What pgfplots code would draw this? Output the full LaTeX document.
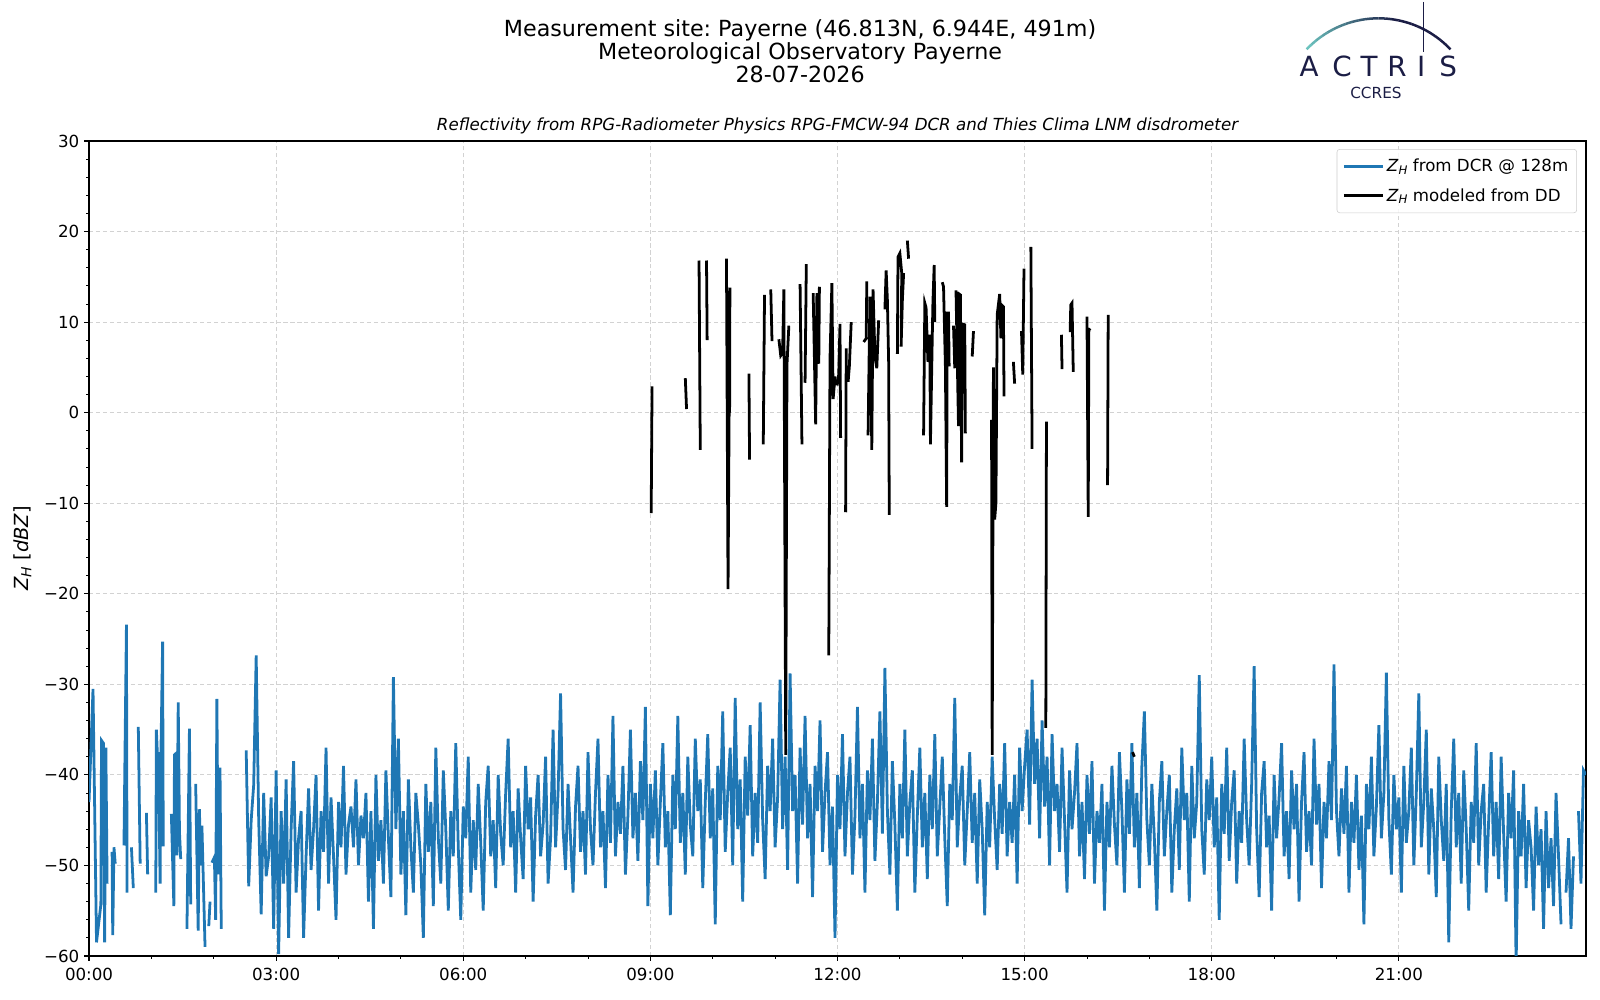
\documentclass[border=0pt]{standalone}
\usepackage{fontspec}
\setmainfont{DejaVu Sans}
\usepackage{pgfplots}
\pgfplotsset{compat=1.18}
\frenchspacing
\definecolor{mplblue}{HTML}{1F77B4}
\definecolor{logonavy}{HTML}{1B1D45}
\definecolor{logoteal}{HTML}{6CC3BE}
\newcommand\ZH[1]{\textit{Z}\raisebox{-0.3ex}{\fontsize{#1}{#1}\selectfont\textit{H}}}
\begin{document}
\begin{tikzpicture}
\useasboundingbox (-64.1pt,-31.7pt) rectangle (1087.9pt,688.3pt);
\begin{axis}[
 at={(0pt,0pt)}, anchor=south west, scale only axis,
 width=1077.8pt, height=586.8pt,
 xmin=0, xmax=24, ymin=-60, ymax=30,
 xtick={0,3,6,9,12,15,18,21},
 xticklabels={00:00,03:00,06:00,09:00,12:00,15:00,18:00,21:00},
 minor x tick num=2,
 ytick={-60,-50,-40,-30,-20,-10,0,10,20,30},
 yticklabels={−60,−50,−40,−30,−20,−10,0,10,20,30},
 minor y tick num=4,
 tick align=outside, tick pos=left,
 major tick length=3.5pt, minor tick length=2pt,
 every tick/.style={black, line width=0.8pt},
 minor tick style={line width=0.6pt},
 axis line style={line width=0.8pt},
 grid=major,
 major grid style={gray!35, line width=0.6pt, dash pattern=on 3pt off 2pt},
 ticklabel style={font=\fontsize{12}{14}\selectfont},
 xticklabel style={yshift=-1.5pt},
 ylabel={\ZH{10} [\textit{dBZ}]},
 ylabel style={font=\fontsize{14}{16}\selectfont, at={(axis description cs:-0.0445,0.5)}, anchor=center},
 unbounded coords=jump,
 legend style={at={(1,1)}, anchor=north east, xshift=-6.5pt, yshift=-5.8pt,
   draw=gray!40, rounded corners=2pt, fill=white, fill opacity=0.8, text opacity=1,
   font=\fontsize{12}{14}\selectfont, inner xsep=4pt, inner ysep=5pt, row sep=6.5pt,
   cells={anchor=west}},
 legend image code/.code={\draw[#1, line width=2pt] (0pt,0pt) -- (28pt,0pt);},
]
\addplot[mplblue, line width=2pt] coordinates {
(0.00,-43.0)(0.064,-30.5)(0.12,-58.5)(0.19,-54.3)(0.20,-36.2)(0.23,-36.5)(0.25,-58.5)(0.27,-37.0)(0.29,-52.0)(0.30,nan)
(0.37,-48.5)(0.38,-57.7)(0.40,-48.0)(0.42,-49.8)(0.48,nan)
(0.56,-47.8)(0.60,-23.4)(0.61,-53.0)(0.64,nan)(0.68,-48.0)(0.71,-52.5)(0.75,nan)(0.79,-34.7)(0.82,-49.8)(0.86,nan)
(0.92,-44.2)(0.94,-51.0)(1.00,nan)
(1.07,-53.0)(1.08,-35.0)(1.10,-38.4)(1.11,-37.5)(1.14,-52.0)(1.15,-38.9)(1.18,-25.3)(1.19,-47.9)(1.25,nan)
(1.32,-44.3)(1.36,-54.5)(1.37,-37.8)(1.40,-37.6)(1.41,-48.9)(1.43,-32.0)(1.45,-46.3)(1.47,-49.3)(1.52,nan)
(1.57,-57.0)(1.61,-34.9)(1.63,-54.3)(1.67,nan)
(1.71,-41.0)(1.75,-57.2)(1.77,-43.8)(1.79,-50.0)(1.81,-45.6)(1.86,-59.0)(1.89,nan)(1.92,-56.7)(1.94,-54.0)(1.955,nan)
(1.97,-49.7)(2.01,-49.1)(2.03,-56.0)(2.05,-31.6)(2.07,-51.0)(2.10,-39.2)(2.12,-57.0)(2.30,nan)
(2.52,-37.3)(2.56,-52.3)(2.60,-45.0)(2.64,-41.1)(2.68,-26.8)(2.72,-44.9)(2.76,-55.4)(2.80,-42.0)(2.84,-51.2)(2.88,-49.0)(2.92,-42.5)(2.96,-57.0)
(3.00,-39.5)(3.04,-59.8)(3.08,-44.0)(3.12,-52.0)(3.16,-40.5)(3.20,-58.0)(3.24,-46.0)(3.28,-38.5)(3.32,-53.0)(3.36,-47.0)(3.40,-44.0)(3.44,-58.0)(3.48,-49.0)(3.52,-41.5)(3.56,-50.5)(3.60,-46.0)(3.64,-40.0)(3.68,-55.0)(3.72,-44.0)(3.76,-48.5)(3.80,-37.0)(3.84,-52.0)(3.88,-42.5)(3.92,-49.0)(3.96,-56.0)
(4.00,-43.0)(4.04,-48.0)(4.08,-39.0)(4.12,-51.0)(4.16,-45.5)(4.20,-43.5)(4.24,-48.0)(4.28,-40.5)(4.32,-50.0)(4.36,-44.5)(4.40,-47.0)(4.44,-42.0)(4.48,-54.0)(4.52,-44.0)(4.56,-57.0)(4.60,-40.0)(4.64,-49.5)(4.68,-45.0)(4.72,-52.0)(4.76,-39.5)(4.80,-47.0)(4.84,-53.5)(4.88,-29.2)(4.92,-46.0)(4.96,-36.0)
(5.00,-51.0)(5.04,-44.0)(5.08,-55.5)(5.12,-40.5)(5.16,-48.0)(5.20,-53.0)(5.24,-42.0)(5.28,-45.5)(5.32,-50.0)(5.36,-58.0)(5.40,-41.0)(5.44,-48.5)(5.48,-43.0)(5.52,-54.5)(5.56,-37.0)(5.60,-47.0)(5.64,-52.0)(5.68,-39.5)(5.72,-46.0)(5.76,-55.0)(5.80,-44.0)(5.84,-49.0)(5.88,-36.5)(5.92,-48.0)(5.96,-56.0)
(6.00,-43.5)(6.04,-47.0)(6.08,-38.0)(6.12,-53.0)(6.16,-45.0)(6.20,-50.5)(6.24,-41.0)(6.28,-47.5)(6.32,-55.0)(6.36,-43.0)(6.40,-39.0)(6.44,-49.0)(6.48,-45.0)(6.52,-52.5)(6.56,-40.0)(6.60,-46.5)(6.64,-50.0)(6.68,-42.0)(6.72,-36.0)(6.76,-48.0)(6.80,-44.0)(6.84,-53.0)(6.88,-41.5)(6.92,-47.0)(6.96,-51.5)
(7.00,-39.0)(7.04,-46.0)(7.08,-42.5)(7.12,-54.0)(7.16,-44.5)(7.20,-40.0)(7.24,-49.0)(7.28,-45.5)(7.32,-38.0)(7.36,-52.0)(7.40,-47.0)(7.44,-35.0)(7.48,-48.0)(7.52,-42.0)(7.56,-31.0)(7.60,-46.0)(7.64,-50.5)(7.68,-41.0)(7.72,-47.0)(7.76,-53.0)(7.80,-43.5)(7.84,-39.0)(7.88,-48.5)(7.92,-44.0)(7.96,-51.0)
(8.00,-37.5)(8.04,-46.0)(8.08,-50.0)(8.12,-42.0)(8.16,-36.0)(8.20,-48.0)(8.24,-44.0)(8.28,-52.5)(8.32,-40.0)(8.36,-47.5)(8.40,-33.5)(8.44,-49.0)(8.48,-43.0)(8.52,-46.5)(8.56,-39.0)(8.60,-51.0)(8.64,-44.5)(8.68,-35.0)(8.72,-47.0)(8.76,-42.0)(8.80,-49.5)(8.84,-38.5)(8.88,-45.0)(8.92,-32.5)(8.96,-54.5)
(9.00,-41.0)(9.04,-47.0)(9.08,-39.5)(9.12,-50.0)(9.16,-43.0)(9.20,-36.5)(9.24,-48.0)(9.28,-44.0)(9.32,-55.5)(9.36,-40.0)(9.40,-46.0)(9.44,-33.5)(9.48,-47.5)(9.52,-42.0)(9.56,-51.0)(9.60,-38.0)(9.64,-45.5)(9.68,-49.0)(9.72,-36.0)(9.76,-44.0)(9.80,-40.5)(9.84,-52.5)(9.88,-43.0)(9.92,-35.5)(9.96,-47.0)
(10.00,-41.5)(10.04,-56.5)(10.08,-39.0)(10.12,-45.0)(10.16,-33.0)(10.20,-48.5)(10.24,-42.0)(10.28,-37.0)(10.32,-50.0)(10.36,-31.5)(10.40,-46.0)(10.44,-40.5)(10.48,-54.0)(10.52,-38.0)(10.56,-44.5)(10.60,-34.5)(10.64,-49.0)(10.68,-42.0)(10.72,-47.5)(10.76,-32.0)(10.80,-45.0)(10.84,-51.5)(10.88,-39.0)(10.92,-44.0)(10.96,-36.0)
(11.00,-48.0)(11.04,-42.5)(11.08,-29.5)(11.12,-46.0)(11.16,-38.0)(11.20,-50.5)(11.24,-28.8)(11.28,-44.0)(11.32,-40.0)(11.36,-52.0)(11.40,-37.0)(11.44,-45.5)(11.48,-33.5)(11.52,-47.0)(11.56,-41.0)(11.60,-53.5)(11.64,-39.0)(11.68,-44.0)(11.72,-34.0)(11.76,-48.5)(11.80,-42.0)(11.84,-37.5)(11.88,-50.0)(11.92,-43.5)(11.96,-58.0)
(12.00,-40.0)(12.04,-46.0)(12.08,-35.5)(12.12,-49.0)(12.16,-42.0)(12.20,-38.0)(12.24,-51.0)(12.28,-44.5)(12.32,-32.5)(12.36,-47.0)(12.40,-41.0)(12.44,-53.0)(12.48,-39.5)(12.52,-45.0)(12.56,-36.0)(12.60,-49.5)(12.64,-43.0)(12.68,-33.0)(12.72,-46.5)(12.76,-28.2)(12.80,-44.0)(12.84,-51.0)(12.88,-38.5)(12.92,-45.5)(12.96,-55.0)
(13.00,-41.0)(13.04,-47.0)(13.08,-35.0)(13.12,-49.0)(13.16,-43.0)(13.20,-39.5)(13.24,-53.0)(13.28,-44.5)(13.32,-37.0)(13.36,-48.0)(13.40,-42.0)(13.44,-51.5)(13.48,-40.0)(13.52,-46.0)(13.56,-35.5)(13.60,-49.0)(13.64,-43.5)(13.68,-38.0)(13.72,-47.0)(13.76,-54.5)(13.80,-41.0)(13.84,-45.0)(13.88,-31.5)(13.92,-48.0)(13.96,-42.5)
(14.00,-39.0)(14.04,-50.0)(14.08,-44.0)(14.12,-37.5)(14.16,-47.5)(14.20,-42.0)(14.24,-52.0)(14.28,-40.5)(14.32,-46.0)(14.36,-55.5)(14.40,-43.0)(14.44,-48.0)(14.48,-38.0)(14.52,-45.0)(14.56,-50.5)(14.60,-41.0)(14.64,-46.5)(14.68,-36.5)(14.72,-49.0)(14.76,-43.0)(14.80,-47.5)(14.84,-40.0)(14.88,-52.0)(14.92,-37.0)(14.96,-44.0)
(15.00,-39.0)(15.04,-35.0)(15.08,-45.5)(15.12,-29.5)(15.16,-41.0)(15.20,-36.0)(15.24,-47.0)(15.28,-34.0)(15.32,-43.5)(15.36,-38.0)(15.40,-50.0)(15.44,-35.5)(15.48,-44.0)(15.52,-41.0)(15.56,-48.5)(15.60,-37.0)(15.64,-45.0)(15.68,-53.0)(15.72,-39.5)(15.76,-46.0)(15.80,-42.0)(15.84,-36.5)(15.88,-49.0)(15.92,-43.0)(15.96,-51.5)
(16.00,-40.0)(16.04,-46.5)(16.08,-38.5)(16.12,-52.0)(16.16,-44.0)(16.20,-47.5)(16.24,-41.0)(16.28,-55.0)(16.32,-43.0)(16.36,-48.0)(16.40,-39.0)(16.44,-45.5)(16.48,-50.0)(16.52,-37.5)(16.56,-44.0)(16.60,-53.0)(16.64,-40.5)(16.68,-46.5)(16.72,-36.5)(16.76,-48.0)(16.80,-42.0)(16.84,-52.5)(16.88,-39.0)(16.92,-33.0)(16.96,-45.0)
(17.00,-50.0)(17.04,-41.0)(17.08,-47.0)(17.12,-55.0)(17.16,-43.0)(17.20,-38.5)(17.24,-49.0)(17.28,-44.0)(17.32,-40.0)(17.36,-53.0)(17.40,-46.0)(17.44,-41.5)(17.48,-50.5)(17.52,-37.0)(17.56,-45.0)(17.60,-42.0)(17.64,-54.0)(17.68,-39.0)(17.72,-47.0)(17.76,-43.0)(17.80,-29.0)(17.84,-46.0)(17.88,-51.0)(17.92,-40.5)(17.96,-45.0)
(18.00,-38.0)(18.04,-48.0)(18.08,-42.5)(18.12,-56.0)(18.16,-41.0)(18.20,-46.5)(18.24,-37.0)(18.28,-49.5)(18.32,-43.0)(18.36,-39.5)(18.40,-52.0)(18.44,-44.0)(18.48,-47.5)(18.52,-36.0)(18.56,-45.0)(18.60,-50.0)(18.64,-41.0)(18.68,-28.0)(18.72,-46.0)(18.76,-53.5)(18.80,-42.0)(18.84,-38.5)(18.88,-48.0)(18.92,-44.5)(18.96,-55.0)
(19.00,-40.0)(19.04,-47.0)(19.08,-42.5)(19.12,-36.5)(19.16,-49.0)(19.20,-44.0)(19.24,-51.5)(19.28,-39.5)(19.32,-46.0)(19.36,-41.0)(19.40,-54.0)(19.44,-43.0)(19.48,-37.5)(19.52,-48.5)(19.56,-44.0)(19.60,-50.0)(19.64,-36.0)(19.68,-45.5)(19.72,-41.0)(19.76,-52.5)(19.80,-43.0)(19.84,-47.0)(19.88,-38.5)(19.92,-45.0)(19.96,-27.8)
(20.00,-44.0)(20.04,-49.0)(20.08,-41.5)(20.12,-46.5)(20.16,-39.0)(20.20,-53.0)(20.24,-43.0)(20.28,-47.5)(20.32,-40.0)(20.36,-50.5)(20.40,-44.5)(20.44,-56.5)(20.48,-41.0)(20.52,-46.0)(20.56,-38.0)(20.60,-49.0)(20.64,-43.5)(20.68,-34.5)(20.72,-47.0)(20.76,-42.0)(20.80,-28.7)(20.84,-45.0)(20.88,-51.0)(20.92,-40.0)(20.96,-46.0)
(21.00,-42.5)(21.04,-53.0)(21.08,-39.0)(21.12,-47.5)(21.16,-44.0)(21.20,-37.0)(21.24,-50.0)(21.28,-42.0)(21.32,-31.0)(21.36,-48.0)(21.40,-43.0)(21.44,-35.0)(21.48,-51.0)(21.52,-41.5)(21.56,-46.0)(21.60,-53.5)(21.64,-38.0)(21.68,-45.0)(21.72,-49.5)(21.76,-41.0)(21.80,-58.5)(21.84,-44.0)(21.88,-36.0)(21.92,-48.0)(21.96,-42.0)
(22.00,-52.0)(22.04,-39.5)(22.08,-46.0)(22.12,-55.0)(22.16,-43.0)(22.20,-47.5)(22.24,-36.5)(22.28,-50.0)(22.32,-44.0)(22.36,-41.0)(22.40,-53.0)(22.44,-45.0)(22.48,-37.5)(22.52,-49.0)(22.56,-43.0)(22.60,-51.5)(22.64,-38.0)(22.68,-46.5)(22.72,-54.0)(22.76,-42.0)(22.80,-47.0)(22.84,-39.5)(22.88,-61.0)(22.92,-44.0)(22.96,-49.0)
(23.00,-41.0)(23.04,-52.5)(23.08,-45.0)(23.12,-48.0)(23.16,-55.0)(23.20,-43.5)(23.24,-50.0)(23.28,-46.0)(23.32,-57.0)(23.36,-44.0)(23.40,-52.5)(23.44,-47.0)(23.48,-54.5)(23.52,-42.0)(23.56,-49.0)(23.60,-56.5)(23.64,nan)
(23.68,-53.0)(23.72,-47.0)(23.76,-57.0)(23.80,-49.0)(23.84,nan)(23.88,-44.0)(23.92,-52.0)(23.96,-39.5)(24.00,-40.0)
};
\addlegendentry{\ZH{8.5} from DCR @ 128m}
\addplot[black, line width=2pt] coordinates {
(9.013,-11.1)(9.027,2.9)(9.03,nan)
(9.56,3.8)(9.58,0.4)(9.6,nan)
(9.78,16.8)(9.80,-4.1)(9.85,nan)
(9.90,16.8)(9.91,8.0)(9.95,nan)
(10.22,17.0)(10.245,-19.5)(10.275,13.8)(10.27,0.0)(10.3,nan)
(10.58,4.3)(10.59,-5.2)(10.6,nan)
(10.81,-3.5)(10.83,13.0)(10.85,nan)
(10.93,13.6)(10.95,7.9)(10.98,nan)
(11.06,8.1)(11.09,6.3)(11.12,6.6)(11.14,13.6)(11.17,-37.8)(11.19,5.3)(11.22,9.6)(11.25,nan)
(11.40,14.2)(11.43,-3.5)(11.45,nan)
(11.48,3.3)(11.50,16.4)(11.52,nan)
(11.61,13.2)(11.65,-1.3)(11.67,13.2)(11.68,5.4)(11.71,13.9)(11.70,5.4)(11.75,nan)
(11.86,-26.8)(11.88,6.0)(11.91,14.3)(11.93,1.5)(11.96,4.0)(11.97,nan)
(11.99,3.0)(12.02,4.2)(12.04,9.8)(12.05,-2.8)(12.1,nan)
(12.13,-11.0)(12.14,7.1)(12.15,nan)
(12.17,3.4)(12.19,5.1)(12.22,10.0)(12.3,nan)
(12.42,7.8)(12.46,8.2)(12.47,14.5)(12.48,nan)
(12.49,-2.5)(12.52,12.8)(12.55,-4.1)(12.57,13.6)(12.60,6.2)(12.63,4.9)(12.66,10.2)(12.7,nan)
(12.76,11.4)(12.78,15.7)(12.80,12.4)(12.82,5.6)(12.83,-11.3)(12.9,nan)
(12.96,6.5)(12.97,17.2)(13.00,17.6)(13.03,15.4)(13.02,7.3)(13.04,12.4)(13.06,15.4)(13.08,nan)
(13.12,19.0)(13.14,17.0)(13.2,nan)
(13.38,-2.5)(13.40,12.1)(13.42,11.6)(13.45,5.6)(13.48,8.6)(13.49,-3.5)(13.52,8.6)(13.53,12.2)(13.55,16.3)(13.56,10.0)(13.6,nan)
(13.68,14.4)(13.70,13.9)(13.73,5.1)(13.75,-10.4)(13.76,11.0)(13.78,11.0)(13.79,5.1)(13.82,nan)
(13.86,9.6)(13.88,4.9)(13.89,nan)
(13.90,13.5)(13.94,-1.5)(13.95,13.1)(13.97,13.0)(13.99,-5.5)(14.00,9.8)(14.04,9.7)(14.05,-2.3)(14.1,nan)
(14.16,6.2)(14.18,9.0)(14.2,nan)
(14.47,-0.8)(14.48,-37.8)(14.50,5.0)(14.52,-11.8)(14.54,-10.0)(14.56,10.8)(14.60,13.1)(14.62,8.2)(14.63,11.9)(14.66,11.7)(14.67,1.8)(14.7,nan)
(14.82,5.6)(14.84,3.2)(14.9,nan)
(14.95,9.0)(14.97,4.2)(14.99,15.9)(15.05,nan)
(15.10,18.3)(15.12,-4.0)(15.2,nan)
(15.35,-1.0)(15.34,-34.8)(15.4,nan)
(15.59,8.6)(15.60,4.8)(15.65,nan)
(15.73,8.9)(15.74,11.9)(15.76,12.1)(15.78,4.5)(15.9,nan)
(16.00,10.6)(16.02,-11.5)(16.03,9.1)(16.05,9.3)(16.1,nan)
(16.33,-8.0)(16.34,10.8)(16.5,nan)
(16.73,-37.5)(16.76,-38.0)
};
\addlegendentry{\ZH{8.5} modeled from DD}
\end{axis}
% titles
\node[font=\fontsize{16}{16.6}\selectfont, align=center] at (512pt,651.3pt)
 {Measurement site: Payerne (46.813N, 6.944E, 491m)\\Meteorological Observatory Payerne\\28-07-2026};
\node[font=\fontsize{12}{14}\selectfont\itshape] at (538.9pt,597.6pt)
 {Reflectivity from RPG-Radiometer Physics RPG-FMCW-94 DCR and Thies Clima LNM disdrometer};
% logo
\foreach \i in {0,...,23} {
  \pgfmathsetmacro\aa{136.6-\i*3.8833}
  \pgfmathsetmacro\bb{\aa-3.95}
  \pgfmathtruncatemacro\pp{min(100,100*\i/14)}
  \draw[line width=1.8pt, color=logonavy!\pp!logoteal] ([shift={(\aa:71.2pt)}]928.45pt,603.9pt) arc[start angle=\aa, end angle=\bb, radius=71.2pt];
}
\draw[logonavy, line width=1pt] (960.7pt,686.9pt) -- (960.7pt,650.9pt);
\foreach \xx/\ll in {878.4/A,902.2/C,921.6/T,941.8/R,959.1/I,978.5/S}
  \node[font=\fontsize{20}{22}\selectfont, text=logonavy, anchor=base, inner sep=0pt] at (\xx pt,632.9pt) {\ll};
\node[font=\fontsize{11}{13}\selectfont, text=logonavy] at (926.6pt,621.4pt) {CCRES};
\end{tikzpicture}
\end{document}
